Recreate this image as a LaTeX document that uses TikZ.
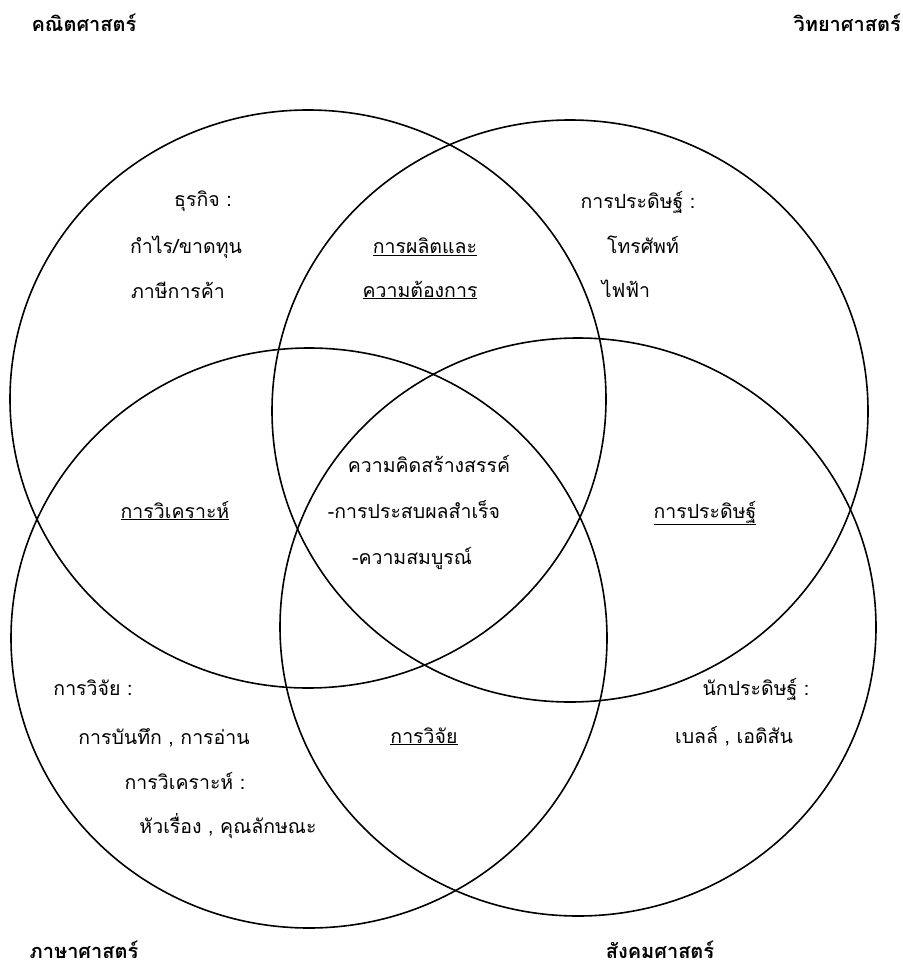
\documentclass[tikz,border=0pt]{standalone}
\usepackage{fontspec}
\newfontfamily\thaifont[Script=Thai]{Loma}
\usepackage{tikz}
\usetikzlibrary{positioning}

\tikzset{
  venn/.style={line width=1.6pt},
  subj/.style={font=\thaifont\bfseries\fontsize{20}{22}\selectfont, inner sep=0pt, anchor=base},
  txt/.style={font=\thaifont\fontsize{19.5}{22}\selectfont, inner sep=0pt, anchor=base},
}

\begin{document}
\begin{tikzpicture}[x=1pt,y=-1pt]
  \useasboundingbox (0,0) rectangle (902,968);
  % ---- the four sets ----
  \foreach \cx/\cy/\ry in {308/399/289, 570/411/291, 309/638/290, 578/627/289} {
    \draw[venn] (\cx,\cy) ellipse [x radius=298, y radius=\ry];
  }
  % ---- subject names ----
  \node[subj] (math) at (84,32) {คณิตศาสตร์};
  \node[subj, anchor=base east] (sci) at (901,32) {วิทยาศาสตร์};
  \node[subj] (lang) at (84,958) {ภาษาศาสตร์};
  \node[subj] (soc) at (660,958) {สังคมศาสตร์};
  % ---- math only ----
  \node[txt] (biz) at (203,207) {ธุรกิจ :};
  \node[txt] (profit) at (186,253) {กำไร/ขาดทุน};
  \node[txt] (tax) at (178,298) {ภาษีการค้า};
  % ---- math and science ----
  \node[txt] (prod) at (425,254) {\underline{การผลิตและ}};
  \node[txt] (demand) at (420,297) {\underline{ความต้องการ}};
  % ---- science only ----
  \node[txt] (inv) at (638,209) {การประดิษฐ์ :};
  \node[txt] (phone) at (643,254) {โทรศัพท์};
  \node[txt] (elec) at (626,297) {ไฟฟ้า};
  % ---- centre ----
  \node[txt] (creat) at (429,472) {ความคิดสร้างสรรค์};
  \node[txt] (success) at (414,518) {-การประสบผลสำเร็จ};
  \node[txt] (complete) at (412,564) {-ความสมบูรณ์};
  % ---- side overlaps ----
  \node[txt] (analysis) at (175,518) {\underline{การวิเคราะห์}};
  \node[txt] (invent) at (705,518) {\underline{การประดิษฐ์}};
  \node[txt] (research) at (424,743) {\underline{การวิจัย}};
  % ---- language only ----
  \node[txt] (res) at (93,695) {การวิจัย :};
  \node[txt] (notes) at (164,744) {การบันทึก , การอ่าน};
  \node[txt] (anal) at (185,789) {การวิเคราะห์ :};
  \node[txt] (topic) at (228,833) {หัวเรื่อง , คุณลักษณะ};
  % ---- society only ----
  \node[txt] (inventor) at (756,695) {นักประดิษฐ์ :};
  \node[txt] (names) at (734,743) {เบลล์ , เอดิสัน};
\end{tikzpicture}
\end{document}
